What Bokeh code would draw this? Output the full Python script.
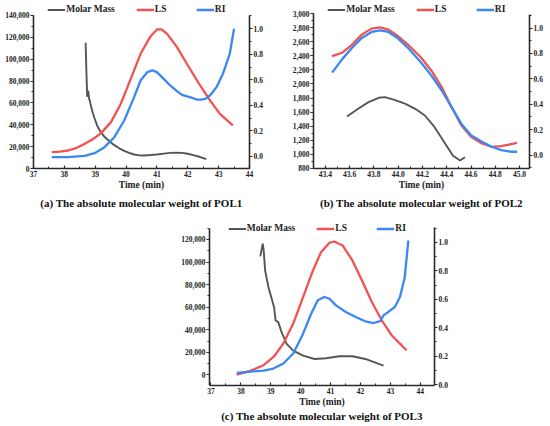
from bokeh.plotting import figure
from bokeh.models import (Range1d, LinearAxis, SingleIntervalTicker, NumeralTickFormatter,
                          PrintfTickFormatter, Legend, LegendItem, FixedTicker, Spacer)
from bokeh.layouts import column, row
from bokeh.embed import file_html
from bokeh.resources import INLINE

# ---------------- data ----------------
# (a) POL1
a_mm_t = [38.69, 38.70, 38.71, 38.73, 38.74, 38.76, 38.78, 38.80, 38.82, 38.87, 38.92, 38.98, 39.08,
          39.19, 39.30, 39.46, 39.62, 39.78, 39.94, 40.10, 40.26, 40.42, 40.58, 40.79, 41.00, 41.22,
          41.43, 41.62, 41.81, 42.00, 42.18, 42.40, 42.60]
a_mm = [115000, 105000, 93000, 75000, 65600, 71000, 70000, 64000, 62500, 56400, 51000, 45750, 38100,
        33000, 29000, 25000, 21350, 18500, 16200, 14300, 12800, 12000, 11900, 12300, 12800, 13600,
        14300, 14500, 14300, 13500, 12200, 10500, 8500]
a_ls_t = [37.59, 37.85, 38.12, 38.40, 38.66, 38.92, 39.19, 39.51, 39.83, 40.15, 40.47, 40.79, 41.00,
          41.15, 41.33, 41.65, 41.97, 42.40, 42.72, 43.04, 43.46]
a_ls = [0.034, 0.038, 0.047, 0.068, 0.099, 0.135, 0.183, 0.269, 0.413, 0.608, 0.804, 0.940, 0.995,
        0.995, 0.960, 0.856, 0.726, 0.556, 0.439, 0.334, 0.243]
a_ri_t = [37.59, 38.12, 38.66, 38.98, 39.30, 39.62, 39.94, 40.26, 40.47, 40.69, 40.85, 41.00, 41.22,
          41.43, 41.65, 41.81, 42.07, 42.29, 42.45, 42.60, 42.72, 42.93, 43.14, 43.36, 43.50]
a_ri = [-0.005, -0.005, 0.005, 0.026, 0.073, 0.151, 0.282, 0.465, 0.595, 0.661, 0.674, 0.661, 0.608,
        0.556, 0.512, 0.483, 0.465, 0.446, 0.446, 0.455, 0.478, 0.543, 0.648, 0.804, 1.000]

# (b) POL2
b_mm_t = [43.578, 43.67, 43.755, 43.84, 43.89, 43.97, 44.06, 44.14, 44.22, 44.30, 44.38, 44.45, 44.51, 44.55]
b_mm = [1537, 1646, 1741, 1803, 1812, 1774, 1717, 1646, 1551, 1384, 1171, 981, 909, 957]
b_t = [43.455, 43.537, 43.62, 43.70, 43.78, 43.85, 43.92, 44.0, 44.08, 44.19, 44.275, 44.36, 44.44,
       44.52, 44.60, 44.69, 44.77, 44.85, 44.93, 44.98]
b_ls = [0.779, 0.805, 0.870, 0.948, 0.995, 1.005, 0.987, 0.935, 0.870, 0.766, 0.662, 0.532, 0.377,
        0.234, 0.143, 0.091, 0.065, 0.070, 0.086, 0.096]
b_ri = [0.649, 0.753, 0.844, 0.922, 0.969, 0.982, 0.969, 0.917, 0.844, 0.727, 0.623, 0.506, 0.377,
        0.247, 0.156, 0.104, 0.065, 0.039, 0.026, 0.026]

# (c) POL3
c_mm_t = [38.65, 38.73, 38.76, 38.81, 38.92, 39.03, 39.11, 39.16, 39.25, 39.36, 39.53, 39.75, 40.08,
          40.46, 40.85, 41.29, 41.73, 42.16, 42.77]
c_mm = [105000, 116400, 111000, 92700, 77900, 67500, 60100, 48300, 46800, 37900, 27600, 21600, 17200,
        14200, 14800, 16600, 16600, 14200, 8300]
c_ls_t = [37.86, 38.32, 38.76, 39.09, 39.42, 39.75, 40.08, 40.41, 40.68, 40.96, 41.12, 41.40, 41.73,
          42.05, 42.38, 42.71, 43.04, 43.32, 43.54]
c_ls = [0.070, 0.096, 0.136, 0.194, 0.288, 0.429, 0.616, 0.803, 0.932, 0.998, 1.007, 0.979, 0.874,
        0.733, 0.581, 0.452, 0.347, 0.288, 0.241]
c_ri_t = [37.86, 38.32, 38.76, 39.09, 39.42, 39.75, 40.08, 40.35, 40.57, 40.79, 40.96, 41.18, 41.51,
          41.84, 42.16, 42.44, 42.66, 42.77, 42.93, 43.15, 43.32, 43.48, 43.60]
c_ri = [0.082, 0.091, 0.098, 0.112, 0.148, 0.218, 0.358, 0.499, 0.593, 0.616, 0.604, 0.557, 0.511,
        0.475, 0.445, 0.433, 0.447, 0.487, 0.511, 0.546, 0.616, 0.756, 1.014]

captions = ["(a) The absolute molecular weight of POL1",
            "(b) The absolute molecular weight of POL2",
            "(c) The absolute molecular weight of POL3"]
x_label = "Time (min)"
legend_labels = ["Molar Mass", "LS", "RI"]

FONT = "Liberation Serif"
AX = "#2a2a2a"
C_MM, C_LS, C_RI = "#555555", "#f25252", "#3a88f2"


def style_axis(ax, ticker, fmt, tick_in=0, tick_out=3):
    ax.ticker = ticker
    ax.formatter = fmt
    ax.axis_line_color = AX
    ax.axis_line_width = 1.6
    ax.major_tick_line_color = AX
    ax.minor_tick_line_color = AX
    ax.major_tick_line_width = 1.2
    ax.major_tick_in = tick_in
    ax.major_tick_out = tick_out
    ax.minor_tick_in = 2 if tick_in else 0
    ax.minor_tick_out = 0 if tick_in else 2
    ax.major_label_standoff = 1
    ax.major_label_text_font = FONT
    ax.major_label_text_font_style = "bold"
    ax.major_label_text_font_size = "7.5px"
    ax.major_label_text_color = "#222222"


def panel(w, h, bl, br, bt, bb, xr, yl, yl_bounds, yr, yr_bounds, xstep, xfmt, ystep,
          mm_t, mm, ls_t, ls, ri_t, ri, caption, cap_standoff, leg_margin):
    p = figure(width=w, height=h, x_range=Range1d(*xr), y_range=Range1d(*yl),
               output_backend="svg", toolbar_location=None, title=None,
               min_border_left=bl, min_border_right=br, min_border_top=bt, min_border_bottom=bb)
    p.outline_line_color = None
    p.xgrid.visible = False
    p.ygrid.visible = False
    p.background_fill_color = "white"
    p.border_fill_color = "white"
    p.extra_y_ranges = {"r": Range1d(*yr)}

    style_axis(p.xaxis[0], SingleIntervalTicker(interval=xstep, num_minor_ticks=2), xfmt, tick_in=3, tick_out=0)
    p.xaxis[0].major_label_standoff = 2
    p.xaxis[0].axis_label = x_label
    p.xaxis[0].axis_label_text_font = FONT
    p.xaxis[0].axis_label_text_font_style = "bold"
    p.xaxis[0].axis_label_text_font_size = "9.5px"
    p.xaxis[0].axis_label_standoff = 0
    p.xaxis[0].axis_label_text_color = "#222222"

    # caption as a tick-less axis label below the time axis
    cap = LinearAxis(ticker=FixedTicker(ticks=[]), axis_line_color=None,
                     major_tick_in=0, major_tick_out=0, minor_tick_in=0, minor_tick_out=0,
                     major_label_standoff=0, axis_label=caption, axis_label_standoff=cap_standoff,
                     axis_label_text_font=FONT, axis_label_text_font_style="bold",
                     axis_label_text_font_size="11px", axis_label_text_color="#111111")
    p.add_layout(cap, "below")

    style_axis(p.yaxis[0], SingleIntervalTicker(interval=ystep, num_minor_ticks=2), NumeralTickFormatter(format="0,0"))
    p.yaxis[0].bounds = yl_bounds

    ra = LinearAxis(y_range_name="r")
    style_axis(ra, SingleIntervalTicker(interval=0.2, num_minor_ticks=2), PrintfTickFormatter(format="%.1f"))
    ra.bounds = yr_bounds
    p.add_layout(ra, "right")

    r_mm = p.line(mm_t, mm, line_color=C_MM, line_width=1.9)
    r_ls = p.line(ls_t, ls, line_color=C_LS, line_width=2.3, y_range_name="r")
    r_ri = p.line(ri_t, ri, line_color=C_RI, line_width=2.3, y_range_name="r")

    leg = Legend(items=[LegendItem(label=legend_labels[0], renderers=[r_mm]),
                        LegendItem(label=legend_labels[1], renderers=[r_ls]),
                        LegendItem(label=legend_labels[2], renderers=[r_ri])],
                 orientation="horizontal", location="top_center",
                 label_text_font=FONT, label_text_font_style="bold", label_text_font_size="9.5px",
                 label_text_color="#222222",
                 glyph_width=18, glyph_height=9, label_height=9, label_standoff=1, spacing=21,
                 padding=0, margin=leg_margin, border_line_alpha=0, background_fill_alpha=0)
    p.add_layout(leg)
    return p


pa = panel(270, 211, 33, 21, 4, 43, (37, 44), (0, 150065), (0, 140000), (-0.094, 1.190), (-0.094, 1.10),
           1, NumeralTickFormatter(format="0"), 20000, a_mm_t, a_mm, a_ls_t, a_ls, a_ri_t, a_ri,
           captions[0], 4, 0)
pb = panel(275, 211, 43, 15, 4, 43, (43.302, 45.082), (795.7, 3132.5), (795.7, 3000), (-0.106, 1.185), (-0.106, 1.11),
           0.2, PrintfTickFormatter(format="%.1f"), 200, b_mm_t, b_mm, b_t, b_ls, b_t, b_ri,
           captions[1], 4, 0)
pc = panel(274, 213, 33, 15, 11, 39, (36.95, 44.475), (-9299, 135055), (-9299, 130000), (-0.007, 1.1408), (-0.007, 1.106),
           1, NumeralTickFormatter(format="0"), 20000, c_mm_t, c_mm, c_ls_t, c_ls, c_ri_t, c_ri,
           captions[2], 0, 1)

layout = column(row(pa, pb), row(Spacer(width=176, height=213), pc))
open("out.html", "w").write(file_html(layout, INLINE))
